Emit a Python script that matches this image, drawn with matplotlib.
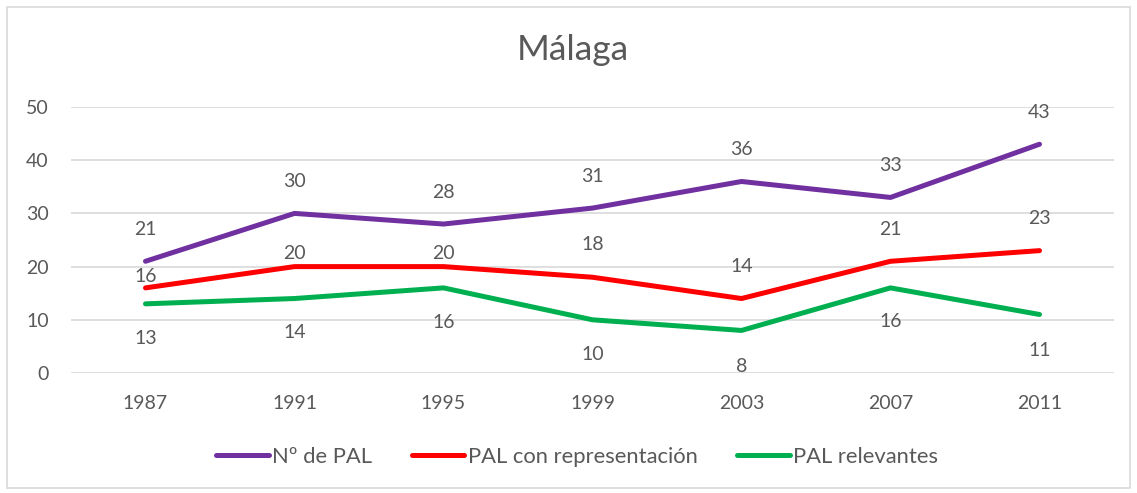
import matplotlib
matplotlib.use("Agg")
import matplotlib.pyplot as plt
from matplotlib.patches import Rectangle

years = ["1987", "1991", "1995", "1999", "2003", "2007", "2011"]
n_pal = [21, 30, 28, 31, 36, 33, 43]
pal_repr = [16, 20, 20, 18, 14, 21, 23]
pal_relev = [13, 14, 16, 10, 8, 16, 11]
series_names = ["Nº de PAL", "PAL con representación", "PAL relevantes"]
yticks = [0, 10, 20, 30, 40, 50]

colors = ["#7030A0", "#FF0000", "#00B050"]
txt = "#595959"
plt.rcParams['font.family'] = ['Lato', 'DejaVu Sans']

W, H = 1137, 493
fig = plt.figure(figsize=(W / 100, H / 100), dpi=100)
fig.patches.append(Rectangle((7 / W, 5 / H), (1130 - 7) / W, (488 - 7) / H,
                             transform=fig.transFigure, fill=False,
                             edgecolor="#D9D9D9", linewidth=1.2))

ax = fig.add_axes([71 / W, 1 - 373 / H, (1114 - 71) / W, (373 - 107) / H])
x = list(range(len(years)))

# label offsets in pixels (positive = above)
offsets = [
    [32, 32, 32, 32, 32, 32, 32],
    [11, 13, 13, 33, 32, 32, 32],
    [-35, -34, -35, -35, -36, -34, -36],
]
data = [n_pal, pal_repr, pal_relev]
for vals, c, name in zip(data, colors, series_names):
    ax.plot(x, vals, color=c, linewidth=3.6, solid_capstyle="round",
            solid_joinstyle="round", label=name)
for vals, offs in zip(data, offsets):
    for xi, v, o in zip(x, vals, offs):
        ax.annotate(str(v), (xi, v), xytext=(0, o * 0.72), textcoords="offset points",
                    ha="center", va="center", fontsize=14, color=txt)

ax.set_xlim(-0.5, len(years) - 0.5)
ax.set_ylim(0, 50)
ax.set_yticks(yticks)
ax.set_xticks(x)
ax.set_xticklabels(years)
ax.tick_params(axis="both", length=0, labelsize=14, labelcolor=txt)
ax.tick_params(axis="y", pad=16)
ax.tick_params(axis="x", pad=16)
ax.grid(axis="y", color="#D9D9D9", linewidth=1.2)
ax.set_axisbelow(True)
for s in ax.spines.values():
    s.set_visible(False)

fig.text(573 / W, 1 - 50 / H, "Málaga", ha="center", va="center",
         fontsize=25.5, color=txt)

fig.legend(loc="center", bbox_to_anchor=(577 / W, 1 - 457 / H), ncol=3,
           frameon=False, fontsize=15.8, labelcolor=txt, handlelength=2.4,
           handletextpad=0.15, columnspacing=1.8)

fig.savefig("out.png", dpi=100)
